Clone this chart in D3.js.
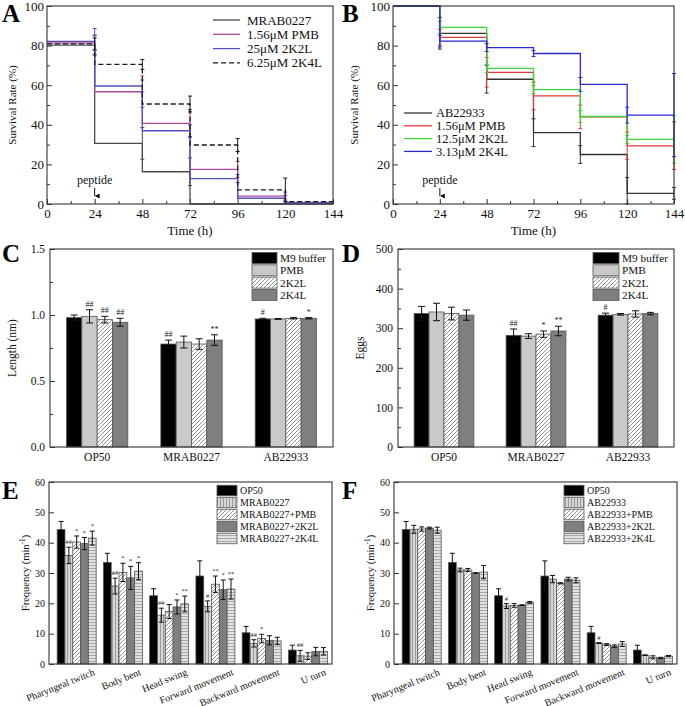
<!DOCTYPE html>
<html><head><meta charset="utf-8">
<script src="https://cdn.jsdelivr.net/npm/d3@7"></script>
<style>
body{margin:0;background:#fff}
svg{font-family:"Liberation Serif","Times New Roman",serif;}
</style>
</head><body>
<svg id="chart" width="685" height="706"></svg>
<script>
// ===================== DATA =====================
const hours = [0, 24, 48, 72, 96, 120, 144];
// Panel A (survival, MRAB0227 infection)
const seriesA = ["MRAB0227", "1.56μM PMB", "25μM 2K2L", "6.25μM 2K4L"];
const aMRAB = [80.2, 30.6, 16.3, 0, 0, 0];
const aPMB  = [81.4, 56.7, 40.7, 17.5, 4.0, 0.8];
const a2K2L = [82.1, 59.6, 37.0, 12.8, 2.9, 0.5];
const a2K4L = [80.9, 70.5, 50.5, 29.8, 7.1, 1.2];
const aErrMRAB = [5, 8, 7, 0, 0];
const aErrPMB  = [4, 8, 7, 4, 2];
const aErr2K2L = [6.5, 3, 3, 2, 1.5];
const aErr2K4L = [3, 2.5, 4, 3.3, 6];
// Panel B (survival, AB22933 infection)
const seriesB = ["AB22933", "1.56μM PMB", "12.5μM 2K2L", "3.13μM 2K4L"];
const bAB   = [100, 86.2, 63.0, 36.0, 25.0, 5.4];
const bPMB  = [100, 84.2, 66.5, 54.6, 44.0, 29.4];
const b2K2L = [100, 89.2, 68.5, 57.8, 44.2, 32.6];
const b2K4L = [100, 82.3, 79.0, 76.0, 60.4, 44.9];
const bErrAB   = [8, 7, 7, 4.5, 8, 3];
const bErrPMB  = [4, 7.5, 7, 6, 7, 12];
const bErr2K2L = [3, 2, 2, 3, 2, 12];
const bErr2K4L = [3, 2, 1.5, 3.5, 4, 21];
// Panels C & D
const groupsCD = ["OP50", "MRAB0227", "AB22933"];
const treatCD = ["M9 buffer", "PMB", "2K2L", "2K4L"];
const lenM9   = [0.98, 0.78, 0.97];
const lenPMB  = [0.99, 0.795, 0.97];
const len2K2L = [0.965, 0.78, 0.975];
const len2K4L = [0.945, 0.81, 0.975];
const lenErrM9   = [0.02, 0.03, 0.005];
const lenErrPMB  = [0.05, 0.045, 0.003];
const lenErr2K2L = [0.025, 0.04, 0.005];
const lenErr2K4L = [0.03, 0.04, 0.005];
const lenSigM9   = ["", "##", "#"];
const lenSigPMB  = ["##", "", ""];
const lenSig2K2L = ["##", "", ""];
const lenSig2K4L = ["##", "**", "*"];
const eggM9   = [337, 282, 333];
const eggPMB  = [341, 280, 335];
const egg2K2L = [337, 285, 336];
const egg2K4L = [333, 293, 337];
const eggErrM9   = [18, 16, 5];
const eggErrPMB  = [22, 6, 2];
const eggErr2K2L = [16, 8, 8];
const eggErr2K4L = [13, 12, 3];
const eggSigM9   = ["", "##", "#"];
const eggSigPMB  = ["", "", ""];
const eggSig2K2L = ["", "*", ""];
const eggSig2K4L = ["", "**", ""];
// Panels E & F
const behaviors = ["Pharyngeal twitch", "Body bent", "Head swing", "Forward movement", "Backward movement", "U turn"];
const seriesE = ["OP50", "MRAB0227", "MRAB0227+PMB", "MRAB0227+2K2L", "MRAB0227+2K4L"];
const seriesF = ["OP50", "AB22933", "AB22933+PMB", "AB22933+2K2L", "AB22933+2K4L"];
const eOP50 = [44.3, 33.5, 22.5, 29.0, 10.3, 4.6];
const eMRAB = [35.8, 25.7, 16.1, 19.0, 6.8, 2.7];
const ePMB  = [40.2, 30.2, 17.3, 26.3, 8.4, 2.6];
const e2K2L = [39.7, 28.4, 18.8, 24.5, 7.8, 4.1];
const e2K4L = [41.5, 30.6, 19.8, 24.7, 7.6, 4.2];
const eErrOP50 = [2.7, 3.0, 2.3, 5.0, 2.1, 1.6];
const eErrMRAB = [2.7, 2.6, 2.3, 1.8, 1.2, 1.8];
const eErrPMB  = [2.0, 3.0, 2.3, 2.7, 1.4, 1.1];
const eErr2K2L = [2.0, 3.8, 2.3, 3.2, 1.5, 1.4];
const eErr2K4L = [2.3, 2.8, 2.6, 3.3, 1.2, 1.2];
const eSigOP50 = ["", "", "", "", "", ""];
const eSigMRAB = ["##", "##", "##", "#", "##", "##"];
const eSigPMB  = ["*", "*", "", "**", "*", ""];
const eSig2K2L = ["*", "*", "*", "*", "", ""];
const eSig2K4L = ["*", "*", "**", "**", "", ""];
const fOP50 = [44.3, 33.5, 22.5, 29.0, 10.3, 4.6];
const fAB   = [44.4, 31.0, 19.1, 28.0, 6.9, 2.9];
const fPMB  = [44.5, 31.0, 19.3, 26.6, 6.4, 2.2];
const f2K2L = [44.8, 30.0, 19.4, 28.0, 5.9, 2.0];
const f2K4L = [44.1, 30.3, 20.3, 27.6, 6.6, 2.6];
const fErrOP50 = [2.7, 3.0, 2.3, 5.0, 2.1, 1.6];
const fErrAB   = [1.3, 0.6, 0.8, 1.2, 0.1, 0.1];
const fErrPMB  = [0.7, 0.5, 0.6, 0.2, 0.3, 0.5];
const fErr2K2L = [0.3, 0.1, 0.1, 0.6, 0.4, 0.2];
const fErr2K4L = [1.0, 2.2, 0.3, 0.8, 0.8, 0.2];
const fSigOP50 = ["", "", "", "", "", ""];
const fSigAB   = ["", "", "#", "", "#", ""];
const fSigPMB  = ["", "", "", "", "", ""];
const fSig2K2L = ["", "", "", "", "", ""];
const fSig2K4L = ["", "", "", "", "", ""];

// ===================== DRAWING =====================
const svg = d3.select("#chart");
const AX = "#333";

const defs = svg.append("defs");
const pd = defs.append("pattern").attr("id", "diag").attr("patternUnits", "userSpaceOnUse").attr("width", 4).attr("height", 4);
pd.append("rect").attr("width", 4).attr("height", 4).attr("fill", "#fff");
pd.append("path").attr("d", "M-1,1 l2,-2 M0,4 l4,-4 M3,5 l2,-2").attr("stroke", "#777").attr("stroke-width", 0.8);
const pv = defs.append("pattern").attr("id", "vlines").attr("patternUnits", "userSpaceOnUse").attr("width", 3).attr("height", 3);
pv.append("rect").attr("width", 3).attr("height", 3).attr("fill", "#d6d6d6");
pv.append("line").attr("x1", 1.5).attr("x2", 1.5).attr("y1", 0).attr("y2", 3).attr("stroke", "#8a8a8a").attr("stroke-width", 0.8);
const ph = defs.append("pattern").attr("id", "hlines").attr("patternUnits", "userSpaceOnUse").attr("width", 3).attr("height", 3);
ph.append("rect").attr("width", 3).attr("height", 3).attr("fill", "#e2e2e2");
ph.append("line").attr("y1", 1.5).attr("y2", 1.5).attr("x1", 0).attr("x2", 3).attr("stroke", "#999").attr("stroke-width", 0.8);
defs.append("marker").attr("id", "arrow").attr("viewBox", "0 0 6 6").attr("refX", 3).attr("refY", 6)
  .attr("markerWidth", 5).attr("markerHeight", 5).attr("orient", "auto-start-reverse")
  .append("path").attr("d", "M0,0 L6,0 L3,6 Z").attr("fill", "#111");

function styleAxis(sel, fs) {
  sel.select(".domain").remove();
  sel.selectAll(".tick line").attr("stroke", AX);
  sel.selectAll(".tick text").attr("font-size", fs).attr("fill", "#111").attr("font-family", '"Liberation Serif",serif');
}
function frame(g, l, r, t, b) {
  g.append("rect").attr("x", l).attr("y", t).attr("width", r - l).attr("height", b - t)
    .attr("fill", "none").attr("stroke", AX).attr("stroke-width", 1.1);
}
function panelLetter(txt, x, y) {
  svg.append("text").attr("x", x).attr("y", y).text(txt).attr("font-size", 25).attr("font-weight", "bold").attr("fill", "#000");
}
function yTitle(g, txt, x, y, fs) {
  const t = g.append("text").attr("transform", `translate(${x},${y}) rotate(-90)`).attr("text-anchor", "middle")
    .attr("font-size", fs).attr("fill", "#111");
  return t.text(txt);
}

// ---------- survival panels ----------
function survival(o) {
  const g = svg.append("g");
  const x = d3.scaleLinear().domain([0, 144]).range([o.l, o.r]);
  const y = d3.scaleLinear().domain([0, 100]).range([o.b, o.t]);
  g.append("g").attr("transform", `translate(0,${o.b})`)
    .call(d3.axisBottom(x).tickValues(hours).tickSize(-5).tickPadding(5)).call(styleAxis, 13);
  g.append("g").attr("transform", `translate(0,${o.b})`)
    .call(d3.axisBottom(x).tickValues(d3.range(12, 144, 24)).tickSize(-3).tickFormat("")).call(styleAxis, 13);
  g.append("g").attr("transform", `translate(${o.l},0)`)
    .call(d3.axisLeft(y).tickValues([0, 20, 40, 60, 80, 100]).tickSize(-5).tickPadding(3)).call(styleAxis, 13);
  g.append("g").attr("transform", `translate(${o.l},0)`)
    .call(d3.axisLeft(y).tickValues([10, 30, 50, 70, 90]).tickSize(-3).tickFormat("")).call(styleAxis, 13);

  const line = d3.line().x(d => x(d[0])).y(d => y(d[1])).curve(d3.curveStepAfter);
  o.vals.forEach((vals, si) => {
    const pts = vals.map((v, i) => [hours[i], v]).concat([[144, vals[vals.length - 1]]]);
    g.append("path").attr("d", line(pts)).attr("fill", "none").attr("stroke", o.colors[si])
      .attr("stroke-width", 1.3).attr("stroke-dasharray", o.dashes[si]);
    o.errs[si].forEach((e, k) => {
      if (e <= 0) return;
      const t = hours[k + 1];
      const c = o.errAtEnd ? vals[k] : vals[Math.min(k + 1, vals.length - 1)];
      const lo = Math.max(0, c - e), hi = Math.min(100, c + e);
      const xx = x(t);
      g.append("line").attr("x1", xx).attr("x2", xx).attr("y1", y(lo)).attr("y2", y(hi)).attr("stroke", o.colors[si]).attr("stroke-width", 1);
      [lo, hi].forEach(v => g.append("line").attr("x1", xx - 2).attr("x2", xx + 2).attr("y1", y(v)).attr("y2", y(v)).attr("stroke", o.colors[si]).attr("stroke-width", 1));
    });
  });
  frame(g, o.l, o.r, o.t, o.b);
  g.append("text").attr("x", x(24)).attr("y", 184).attr("text-anchor", "middle").attr("font-size", 12).attr("fill", "#111").text("peptide");
  g.append("line").attr("x1", x(24)).attr("x2", x(24)).attr("y1", 188).attr("y2", 196).attr("stroke", "#111").attr("stroke-width", 1).attr("marker-end", "url(#arrow)");
  g.append("text").attr("x", (o.l + o.r) / 2).attr("y", 235).attr("text-anchor", "middle").attr("font-size", 13).attr("fill", "#111").text("Time (h)");
  yTitle(g, "Survival Rate (%)", o.yt, (o.t + o.b) / 2, 11);
  o.names.forEach((n, i) => {
    const yy = o.legY + i * o.legDy;
    g.append("line").attr("x1", o.legX).attr("x2", o.legX + o.legW).attr("y1", yy).attr("y2", yy)
      .attr("stroke", o.colors[i]).attr("stroke-width", 1.3).attr("stroke-dasharray", o.dashes[i]);
    g.append("text").attr("x", o.legX + o.legW + o.legGap).attr("y", yy).attr("dy", "0.35em").attr("font-size", o.legfs).attr("fill", "#111").text(n);
  });
}

survival({
  l: 47, r: 333, t: 6, b: 204, yt: 16,
  names: seriesA, vals: [aMRAB, aPMB, a2K2L, a2K4L], errs: [aErrMRAB, aErrPMB, aErr2K2L, aErr2K4L],
  colors: ["#4a4a4a", "#b04a98", "#5050c0", "#1a1a1a"], dashes: [null, null, null, "5,3"], errAtEnd: true,
  legX: 213, legW: 27, legGap: 7, legY: 20, legDy: 14.3, legfs: 13
});
survival({
  l: 393, r: 674, t: 6, b: 204, yt: 358,
  names: seriesB, vals: [bAB, bPMB, b2K2L, b2K4L], errs: [bErrAB, bErrPMB, bErr2K2L, bErr2K4L],
  colors: ["#333333", "#e23a3a", "#3ad63a", "#2a2ad2"], dashes: [null, null, null, null], errAtEnd: false,
  legX: 404, legW: 28, legGap: 4, legY: 113, legDy: 12.8, legfs: 12.5
});

// ---------- bar panels ----------
function bars(o) {
  const g = svg.append("g");
  const x0 = d3.scaleBand().domain(o.cats).range([o.l, o.r]).paddingInner(o.pi).paddingOuter(o.po).align(o.align);
  const x1 = d3.scaleBand().domain(o.series).range([0, x0.bandwidth()]);
  const y = d3.scaleLinear().domain(o.ydom).range([o.b, o.t]);
  g.append("g").attr("transform", `translate(${o.l},0)`)
    .call(d3.axisLeft(y).tickValues(o.yticks).tickSize(-5).tickPadding(o.tp).tickFormat(o.fmt)).call(styleAxis, o.fs);
  if (o.yminor) g.append("g").attr("transform", `translate(${o.l},0)`)
    .call(d3.axisLeft(y).tickValues(o.yminor).tickSize(-3).tickFormat("")).call(styleAxis, o.fs);

  o.series.forEach((s, si) => {
    o.cats.forEach((c, ci) => {
      const v = o.vals[si][ci], e = o.errs[si][ci];
      const bx = x0(c) + x1(s), bw = x1.bandwidth(), cx = bx + bw / 2;
      g.append("rect").attr("x", bx).attr("y", y(v)).attr("width", bw).attr("height", y(0) - y(v))
        .attr("fill", o.fills[si]).attr("stroke", "#555").attr("stroke-width", 0.8);
      const cw = o.cap;
      g.append("line").attr("x1", cx).attr("x2", cx).attr("y1", y(v - e)).attr("y2", y(v + e)).attr("stroke", "#111").attr("stroke-width", 1);
      [v - e, v + e].forEach(vv => g.append("line").attr("x1", cx - cw).attr("x2", cx + cw).attr("y1", y(vv)).attr("y2", y(vv)).attr("stroke", "#111").attr("stroke-width", 1));
      const m = o.sig[si][ci];
      if (m) g.append("text").attr("x", cx).attr("y", y(v + e) - 3).attr("text-anchor", "middle")
        .attr("font-size", o.sigfs).attr("fill", "#222").text(m);
    });
  });
  if (o.rot) {
    o.cats.forEach(c => {
      const cx = x0(c) + x0.bandwidth() / 2;
      g.append("text").attr("transform", `translate(${cx + o.rotDx},${o.b + o.rotDy}) rotate(${o.rot})`)
        .attr("text-anchor", "end").attr("dy", "0.71em").attr("font-size", o.fs).attr("fill", "#111").text(c);
    });
  } else {
    g.append("g").attr("transform", `translate(0,${o.b})`)
      .call(d3.axisBottom(x0).tickSize(0).tickPadding(6)).call(styleAxis, o.catfs);
  }
  frame(g, o.l, o.r, o.t, o.b);
  const yt = g.append("text").attr("transform", `translate(${o.yt},${(o.t + o.b) / 2}) rotate(-90)`)
    .attr("text-anchor", "middle").attr("font-size", o.ytfs).attr("fill", "#111");
  if (o.ytitleSup) {
    yt.append("tspan").text(o.ytitle);
    yt.append("tspan").attr("font-size", o.ytfs * 0.7).attr("baseline-shift", "super").text(o.ytitleSup);
    yt.append("tspan").text(")");
  } else yt.text(o.ytitle);
  o.series.forEach((s, i) => {
    const yy = o.legY + i * o.legDy;
    g.append("rect").attr("x", o.legX).attr("y", yy - o.legH / 2).attr("width", o.legW).attr("height", o.legH)
      .attr("fill", o.fills[i]).attr("stroke", "#555").attr("stroke-width", 0.8);
    g.append("text").attr("x", o.legX + o.legW + 3).attr("y", yy).attr("dy", "0.35em").attr("font-size", o.legfs).attr("fill", "#111").text(s);
  });
}

const fillsCD = ["#000", "#c9c9c9", "url(#diag)", "#7f7f7f"];
const fillsEF = ["#000", "url(#vlines)", "url(#diag)", "#7f7f7f", "url(#hlines)"];

bars({
  l: 50, r: 333, t: 249, b: 447, cats: groupsCD, series: treatCD,
  vals: [lenM9, lenPMB, len2K2L, len2K4L], errs: [lenErrM9, lenErrPMB, lenErr2K2L, lenErr2K4L],
  sig: [lenSigM9, lenSigPMB, lenSig2K2L, lenSig2K4L], fills: fillsCD,
  pi: 0.35, po: 0.175, align: 0.5, ydom: [0, 1.5], yticks: [0, 0.5, 1.0, 1.5], yminor: [0.25, 0.75, 1.25],
  fmt: d3.format(".1f"), tp: 5, fs: 11.5, catfs: 11.5, cap: 3.5, sigfs: 8,
  yt: 16, ytitle: "Length (nm)", ytfs: 11.5,
  legX: 252, legY: 258, legDy: 12.3, legW: 25, legH: 11, legfs: 11.3
});
bars({
  l: 398, r: 674, t: 249, b: 447, cats: groupsCD, series: treatCD,
  vals: [eggM9, eggPMB, egg2K2L, egg2K4L], errs: [eggErrM9, eggErrPMB, eggErr2K2L, eggErr2K4L],
  sig: [eggSigM9, eggSigPMB, eggSig2K2L, eggSig2K4L], fills: fillsCD,
  pi: 0.35, po: 0.175, align: 0.5, ydom: [0, 500], yticks: [0, 100, 200, 300, 400, 500], yminor: [50, 150, 250, 350, 450],
  fmt: d3.format("d"), tp: 5, fs: 11.5, catfs: 11.5, cap: 3.5, sigfs: 8,
  yt: 364, ytitle: "Eggs", ytfs: 11.5,
  legX: 593, legY: 258, legDy: 12.3, legW: 26, legH: 11, legfs: 11.3
});
bars({
  l: 49, r: 332, t: 482, b: 664, cats: behaviors, series: seriesE,
  vals: [eOP50, eMRAB, ePMB, e2K2L, e2K4L], errs: [eErrOP50, eErrMRAB, eErrPMB, eErr2K2L, eErr2K4L],
  sig: [eSigOP50, eSigMRAB, eSigPMB, eSig2K2L, eSig2K4L], fills: fillsEF,
  pi: 0.157, po: 0.138, align: 0.64, ydom: [0, 60], yticks: [0, 10, 20, 30, 40, 50, 60], yminor: null,
  fmt: d3.format("d"), tp: 4, fs: 10, cap: 2.5, sigfs: 6.5, rot: -22, rotDx: 16, rotDy: 4,
  yt: 29, ytitle: "Frequency (min", ytitleSup: "-1", ytfs: 10.5,
  legX: 217, legY: 490.5, legDy: 12, legW: 20, legH: 10.5, legfs: 10
});
bars({
  l: 394, r: 677, t: 482, b: 664, cats: behaviors, series: seriesF,
  vals: [fOP50, fAB, fPMB, f2K2L, f2K4L], errs: [fErrOP50, fErrAB, fErrPMB, fErr2K2L, fErr2K4L],
  sig: [fSigOP50, fSigAB, fSigPMB, fSig2K2L, fSig2K4L], fills: fillsEF,
  pi: 0.157, po: 0.138, align: 0.64, ydom: [0, 60], yticks: [0, 10, 20, 30, 40, 50, 60], yminor: null,
  fmt: d3.format("d"), tp: 4, fs: 10, cap: 2.5, sigfs: 6.5, rot: -22, rotDx: 16, rotDy: 4,
  yt: 374, ytitle: "Frequency (min", ytitleSup: "-1", ytfs: 10.5,
  legX: 564, legY: 490.5, legDy: 12, legW: 20, legH: 10.5, legfs: 10
});

panelLetter("A", 2, 22);
panelLetter("B", 342, 22);
panelLetter("C", 2, 262);
panelLetter("D", 342, 262);
panelLetter("E", 2, 499);
panelLetter("F", 342, 499);
</script>
</body></html>
